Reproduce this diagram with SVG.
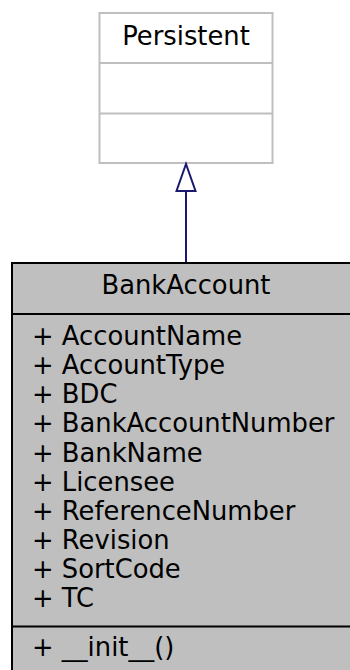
<svg xmlns="http://www.w3.org/2000/svg" width="350" height="670" viewBox="0 0 350 670">
<style>
text{font-family:"DejaVu Sans",sans-serif;font-size:25.8px;fill:#000}
.c{text-anchor:middle}
.persist{fill:#fff;stroke:#bfbfbf;stroke-width:2}
.bank{fill:#bfbfbf;stroke:#000;stroke-width:2}
.edge{fill:none;stroke:#191970;stroke-width:2}
.head{fill:#fff;stroke:#191970;stroke-width:2}
</style>
<g id="node-persistent">
<rect class="persist" x="99.5" y="13" width="173" height="150"/>
<line class="persist" x1="99.5" y1="63" x2="272.5" y2="63"/>
<line class="persist" x1="99.5" y1="113.5" x2="272.5" y2="113.5"/>
<text class="c" x="186" y="45">Persistent</text>
</g>
<g id="node-bankaccount">
<rect class="bank" x="12" y="263" width="349" height="420"/>
<line class="bank" x1="12" y1="314" x2="361" y2="314"/>
<line class="bank" x1="12" y1="626.5" x2="361" y2="626.5"/>
<text class="c" x="186" y="294">BankAccount</text>
<text x="32" y="345">+ AccountName</text>
<text x="32" y="374">+ AccountType</text>
<text x="32" y="403">+ BDC</text>
<text x="32" y="432">+ BankAccountNumber</text>
<text x="32" y="461.5">+ BankName</text>
<text x="32" y="490.5">+ Licensee</text>
<text x="32" y="520">+ ReferenceNumber</text>
<text x="32" y="549">+ Revision</text>
<text x="32" y="578">+ SortCode</text>
<text x="32" y="607">+ TC</text>
<text x="32" y="656">+ __init__()</text>
</g>
<g id="connectors">
<line class="edge" x1="186" y1="191" x2="186" y2="262"/>
<polygon class="head" points="186,164 176.5,191 195.5,191"/>
</g>
</svg>
